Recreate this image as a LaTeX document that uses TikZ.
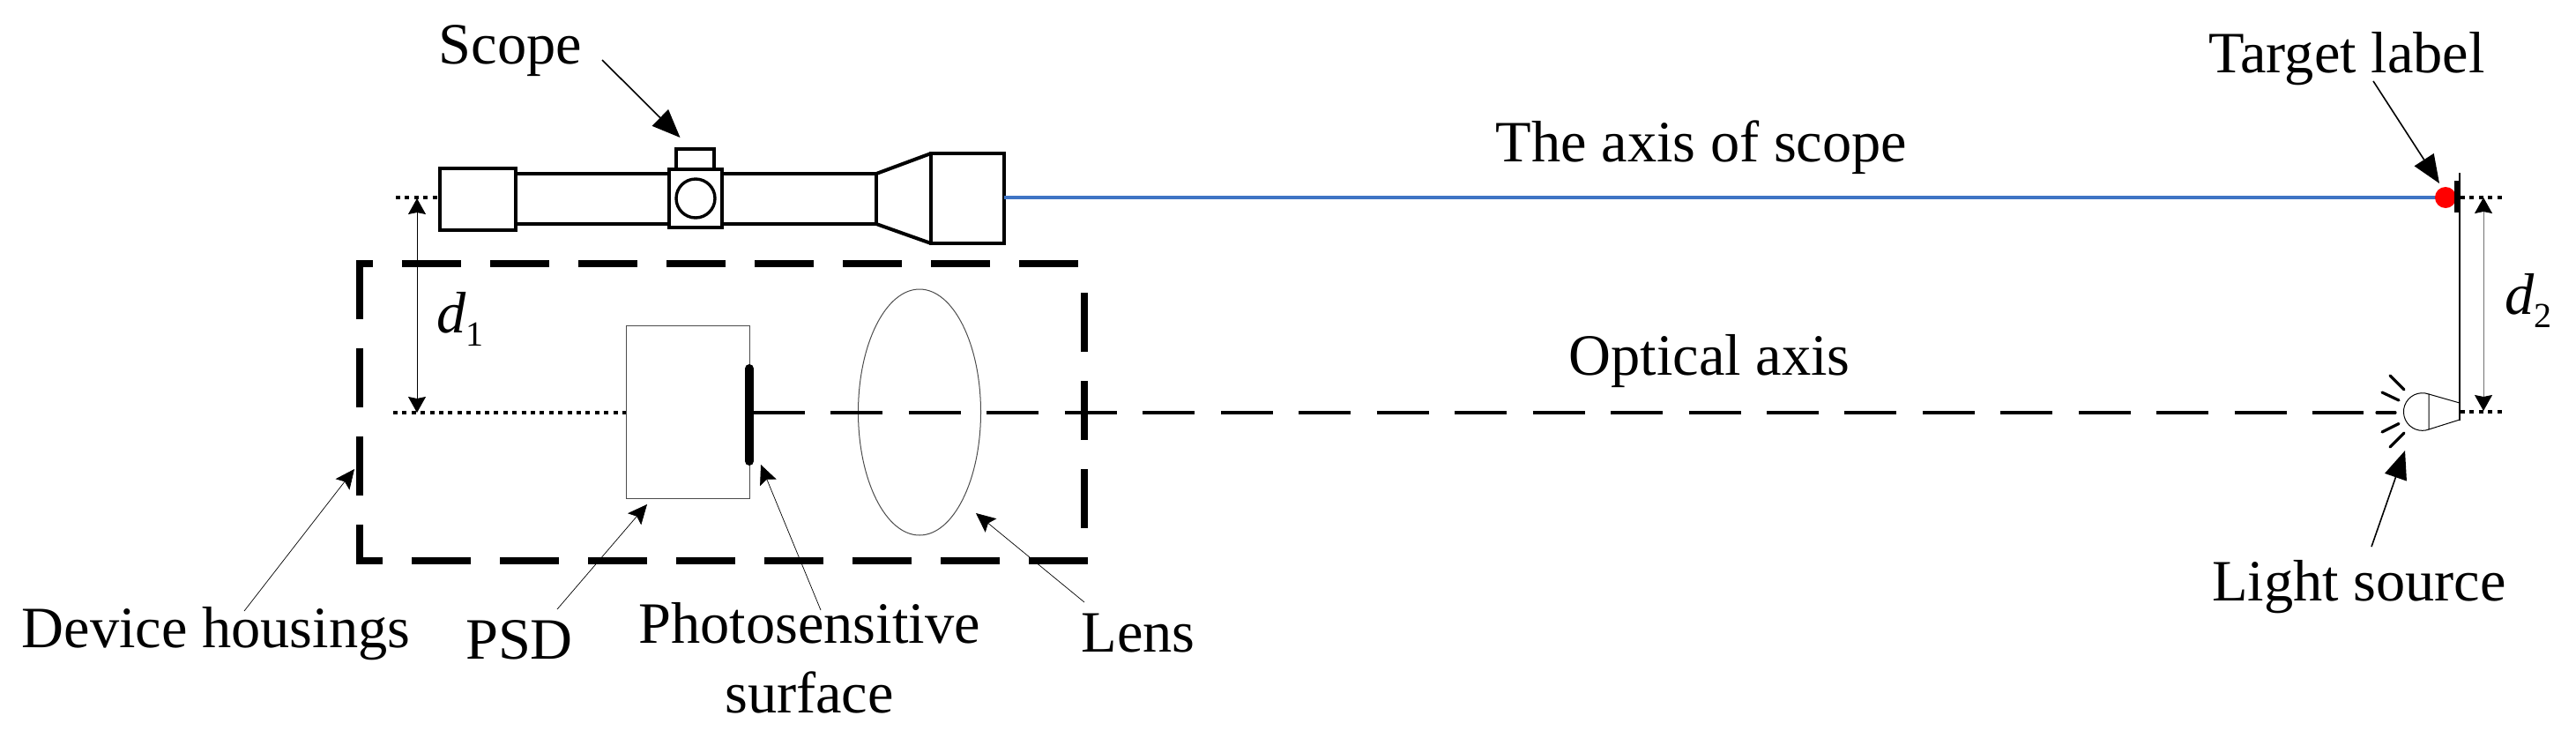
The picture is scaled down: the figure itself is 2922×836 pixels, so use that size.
\documentclass[tikz,border=0pt]{standalone}
\usepackage{fontspec}
\setmainfont{Liberation Serif}
\usetikzlibrary{arrows.meta}
\definecolor{axisblue}{HTML}{3F74C4}
\newcommand{\subdist}[1]{\textit{d}\raisebox{-7.8pt}{\fontsize{20}{20}\selectfont #1}}

\begin{document}
\begin{tikzpicture}[x=0.5pt,y=-0.5pt,
		bigtip/.style={-{Stealth[inset=0pt,length=16pt,width=13pt]},line width=0.8pt},
		thintip/.style={-{Stealth[inset=2pt,length=11pt,width=10pt]},line width=0.35pt},
		disttip/.style={{Stealth[inset=1pt,length=9pt,width=10pt]}-{Stealth[inset=1pt,length=9pt,width=10pt]},line width=0.5pt},
		lbl/.style={inner sep=0pt,anchor=base,font=\fontsize{33.2}{38}\selectfont},
		scopeline/.style={line width=1.7pt},
		hair/.style={line width=0.5pt,draw=black!70},
		housing/.style={line width=4.2pt,dash pattern=on 33.5pt off 16.5pt},
		dotline/.style={line width=1.6pt,dash pattern=on 2.5pt off 2.7pt},
		ray/.style={line width=1.6pt,line cap=round}]
		\useasboundingbox (0,0) rectangle (2922,836);
		
		\coordinate (scopetail) at (683,68);
		\coordinate (scopetip) at (771.5,156);
		\coordinate (hsgtail) at (277,693);
		\coordinate (hsgtip) at (402,532);
		\coordinate (psdtail) at (632,691);
		\coordinate (psdtip) at (734,572);
		\coordinate (surftail) at (931,692);
		\coordinate (surftip) at (863,527);
		\coordinate (lenstail) at (1230,683);
		\coordinate (lenstip) at (1107,582);
		\coordinate (targettail) at (2692,92);
		\coordinate (targettip) at (2767,208);
		\coordinate (lighttail) at (2690,620);
		\coordinate (lighttip) at (2728,511);
		\coordinate (scopeend) at (1139,224);
		\coordinate (targetdot) at (2774,224);
		\coordinate (optstart) at (854,468);
		\coordinate (optend) at (2681,468);
		\coordinate (lefttop) at (473,225);
		\coordinate (leftlow) at (473,468);
		\coordinate (righttop) at (2817,224);
		\coordinate (rightlow) at (2817,466);
		
		\node[lbl] (scope) at (579,72) {Scope};
		\node[lbl] (scopeaxis) at (1930,183) {The axis of scope};
		\node[lbl] (optaxis) at (1939,425) {Optical axis};
		\node[lbl] (target) at (2662,82) {Target label};
		\node[lbl] (light) at (2676,681) {Light source};
		\node[lbl] (hsg) at (245,734) {Device housings};
		\node[lbl] (psd) at (589,747) {PSD};
		\node[lbl] (surf) at (918,729) {Photosensitive};
		\node[lbl] (surf2) at (918,808) {surface};
		\node[lbl] (lens) at (1291,739) {Lens};
		\node[lbl,anchor=base west] (d1) at (495,377) {\subdist{1}};
		\node[lbl,anchor=base west] (d2) at (2841,356) {\subdist{2}};
		
		\draw[scopeline] (499,191) rectangle (585,261);
		\draw[scopeline] (585,197) -- (994,197) (585,254) -- (994,254);
		\draw[scopeline,fill=white] (759,192) rectangle (819,258);
		\draw[scopeline] (767,192) -- (767,169) -- (810,169) -- (810,192);
		\draw[scopeline] (789,225) circle [radius=22];
		\draw[scopeline] (994,197) -- (994,254);
		\draw[line width=2pt] (994,197) -- (1056,174) (994,254) -- (1056,276);
		\draw[scopeline] (1056,174) rectangle (1139,276);
		
		\draw[housing,dash phase=33.5pt] (1230,299) -- (1230,636) -- (408,636) -- (408,299);
		\draw[housing,dash phase=24pt] (404,299) -- (1228,299);
		
		\draw[hair] (710,369.5) rectangle (850,565);
		\draw[hair] (1043,467.5) ellipse [x radius=69.5,y radius=139.5];
		\draw[line width=5pt,line cap=round] (850,418) -- (850,523);
		
		\draw[dotline] (449,224) -- (499,224);
		\draw[dotline] (446,468) -- (710,468);
		\draw[dotline] (2791,224) -- (2840,224);
		\draw[dotline] (2791,467) -- (2840,467);
		
		\draw[axisblue,line width=1.8pt] (scopeend) -- (targetdot);
		\draw[line width=1.8pt,dash pattern=on 29.5pt off 14.73pt] (optstart) -- (optend);
		
		\fill[red] (targetdot) circle [radius=12];
		\draw[line width=3.2pt] (2787.5,205) -- (2787.5,241);
		\draw[line width=1.4pt] (2790,196) -- (2790,477);
		
		\draw[line width=0.5pt] (2755,447) arc [start angle=-70,end angle=-290,radius=21.3] -- cycle;
		\draw[line width=0.5pt] (2755,447) -- (2790,457) (2755,487) -- (2790,476);
		\draw[ray] (2711,426) -- (2727,442);
		\draw[ray] (2702,445) -- (2721,454);
		\draw[ray] (2696,468) -- (2717,468);
		\draw[ray] (2702,490) -- (2721,480.5);
		\draw[ray] (2711,507) -- (2727,491);
		
		\path 
		(scopetail) edge [bigtip] (scopetip)
		(targettail) edge [bigtip] (targettip)
		(lighttail) edge [bigtip] (lighttip)
		(hsgtail) edge [thintip] (hsgtip)
		(psdtail) edge [thintip] (psdtip)
		(surftail) edge [thintip] (surftip)
		(lenstail) edge [thintip] (lenstip)
		(lefttop) edge [disttip] (leftlow)
		(righttop) edge [disttip,draw=black!55,{Stealth[inset=1pt,length=9pt,width=10pt,black]}-{Stealth[inset=1pt,length=9pt,width=10pt,black]}] (rightlow);
		\end{tikzpicture}
\end{document}
